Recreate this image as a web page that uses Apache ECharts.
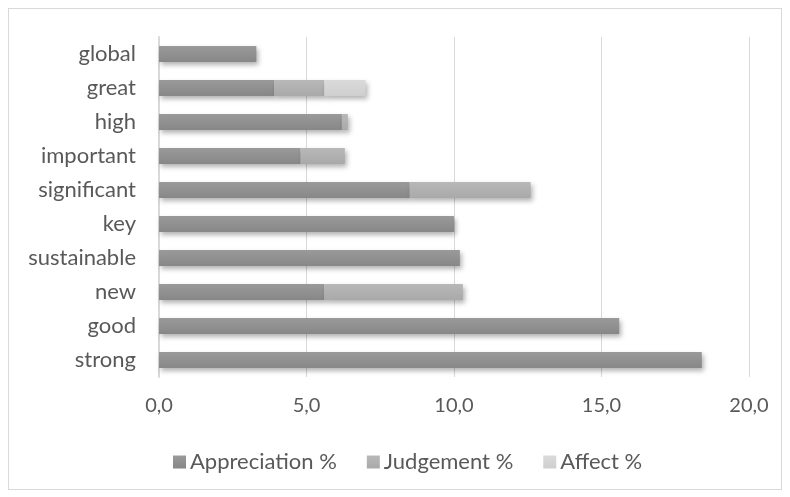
<!DOCTYPE html>
<html>
<head>
<meta charset="utf-8">
<script src="https://cdn.jsdelivr.net/npm/echarts@6/dist/echarts.min.js"></script>
<style>
  html, body { margin: 0; padding: 0; background: #fff; }
  #frame { position: absolute; left: 8px; top: 8px; width: 772px; height: 480px; border: 1px solid #d9d9d9; }
  #chart { width: 790px; height: 497px; }
</style>
</head>
<body>
<div id="frame"></div>
<div id="chart"></div>
<script>
// categories bottom -> top (category axis starts at the bottom)
const categories = ['strong', 'good', 'new', 'sustainable', 'key', 'significant', 'important', 'high', 'great', 'global'];
const appreciation = [18.4, 15.6, 5.6, 10.2, 10.0, 8.5, 4.8, 6.2, 3.9, 3.3];
const judgement    = [0,    0,    4.7, 0,    0,    4.1, 1.5, 0.2, 1.7, 0];
const affect       = [0,    0,    0,   0,    0,    0,   0,   0,   1.4, 0];
const seriesNames = ['Appreciation %', 'Judgement %', 'Affect %'];
const xTicks = [0, 5, 10, 15, 20];

const FONT = 'Lato, "Open Sans", sans-serif';
const LABEL_COLOR = '#595959';

// slightly shaded fill so the bars look like the soft office-style bars
function shade(top, bottom) {
  return new echarts.graphic.LinearGradient(0, 0, 0, 1, [
    { offset: 0, color: top },
    { offset: 1, color: bottom },
  ]);
}

function barSeries(name, data, top, bottom, legendColor) {
  return {
    name,
    type: 'bar',
    stack: 'total',
    barWidth: 16,
    data,
    color: legendColor,
    itemStyle: {
      color: shade(top, bottom),
      shadowColor: 'rgba(0,0,0,0.3)',
      shadowBlur: 5,
      shadowOffsetX: 2,
      shadowOffsetY: 3,
    },
  };
}

const chart = echarts.init(document.getElementById('chart'));
chart.setOption({
  animation: false,
  backgroundColor: 'transparent',
  textStyle: { fontFamily: FONT },
  grid: { left: 159, right: 41, top: 37, bottom: 120, containLabel: false },
  legend: {
    bottom: 19,
    left: 168,
    itemWidth: 13,
    itemHeight: 13,
    itemGap: 30,
    icon: 'rect',
    textStyle: { color: LABEL_COLOR, fontSize: 22, fontFamily: FONT, padding: [0, 0, 0, -1] },
    data: seriesNames,
  },
  xAxis: {
    type: 'value',
    min: 0,
    max: 20,
    interval: 5,
    axisLine: { show: false },
    axisTick: { show: false },
    splitLine: { lineStyle: { color: '#d9d9d9', width: 1 } },
    axisLabel: {
      color: LABEL_COLOR,
      fontSize: 20,
      margin: 19,
      formatter: (v) => xTicks.includes(v) ? v.toFixed(1).replace('.', ',') : '',
    },
  },
  yAxis: {
    type: 'category',
    data: categories,
    axisLine: { lineStyle: { color: '#d9d9d9', width: 2 } },
    axisTick: { show: false },
    axisLabel: { color: LABEL_COLOR, fontSize: 22, margin: 23 },
  },
  series: [
    barSeries(seriesNames[0], appreciation, '#9a9a9a', '#878787', '#8c8c8c'),
    barSeries(seriesNames[1], judgement, '#b8b8b8', '#a9a9a9', '#b0b0b0'),
    barSeries(seriesNames[2], affect, '#dadada', '#cfcfcf', '#d6d6d6'),
  ],
});
</script>
</body>
</html>
